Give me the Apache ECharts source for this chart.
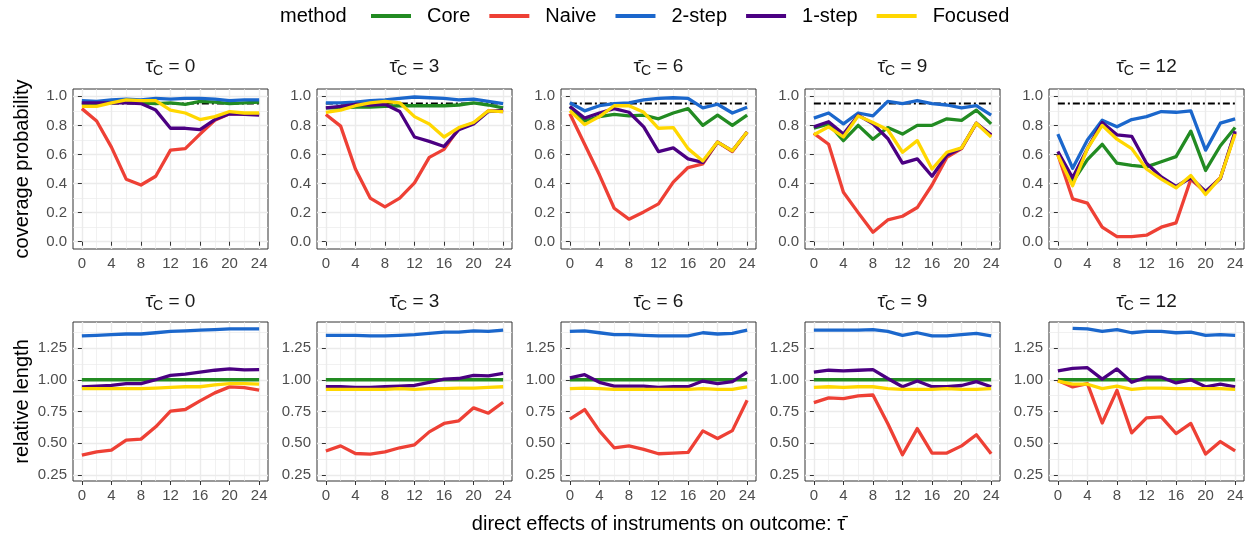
<!DOCTYPE html>
<html><head><meta charset="utf-8">
<script src="https://cdn.jsdelivr.net/npm/echarts@6/dist/echarts.min.js"></script>
<style>html,body{margin:0;padding:0;background:#fff}#c{width:1252px;height:541px}</style>
</head><body><div id="c"></div>
<script>
const methods = ['Core', 'Naive', '2-step', '1-step', 'Focused'];
const colors = ['#228B22', '#EE4035', '#1B67CC', '#4B0082', '#FFD700'];
const tauBar = [0, 2, 4, 6, 8, 10, 12, 14, 16, 18, 20, 22, 24];
const tauC = [0, 3, 6, 9, 12];
const xTicks = [0, 4, 8, 12, 16, 20, 24];
const xMinor = [2, 6, 10, 14, 18, 22];
const covTicks = [0, 0.2, 0.4, 0.6, 0.8, 1.0];
const covMinor = [0.1, 0.3, 0.5, 0.7, 0.9];
const lenTicks = [0.25, 0.5, 0.75, 1.0, 1.25];
const lenMinor = [0.375, 0.625, 0.875, 1.125, 1.375];
const nominal = 0.95;

// coverage probability, one row per tauC panel
const covCore = [
  [0.955,0.95,0.96,0.96,0.955,0.95,0.955,0.945,0.965,0.96,0.95,0.955,0.96],
  [0.92,0.92,0.925,0.925,0.93,0.935,0.935,0.935,0.935,0.94,0.955,0.94,0.92],
  [0.93,0.83,0.86,0.875,0.865,0.87,0.845,0.885,0.915,0.8,0.87,0.8,0.87],
  [0.78,0.81,0.695,0.8,0.705,0.785,0.74,0.8,0.8,0.845,0.835,0.905,0.81],
  [0.605,0.41,0.565,0.67,0.54,0.525,0.515,0.55,0.585,0.76,0.49,0.66,0.785]
];
const covNaive = [
  [0.915,0.83,0.65,0.43,0.39,0.45,0.63,0.64,0.74,0.835,0.88,0.88,0.875],
  [0.875,0.795,0.5,0.3,0.24,0.3,0.405,0.58,0.635,0.78,0.815,0.9,0.895],
  [0.88,0.67,0.46,0.23,0.155,0.205,0.26,0.41,0.51,0.535,0.685,0.62,0.755],
  [0.745,0.67,0.34,0.2,0.065,0.15,0.175,0.235,0.39,0.58,0.64,0.815,0.73],
  [0.6,0.295,0.265,0.1,0.035,0.035,0.045,0.1,0.13,0.43,0.34,0.44,0.75]
];
const cov2step = [
  [0.97,0.965,0.975,0.98,0.975,0.985,0.98,0.985,0.985,0.98,0.97,0.975,0.975],
  [0.955,0.955,0.96,0.97,0.975,0.985,0.995,0.99,0.985,0.975,0.98,0.965,0.95],
  [0.955,0.9,0.935,0.95,0.955,0.975,0.985,0.99,0.985,0.92,0.945,0.885,0.925],
  [0.85,0.885,0.81,0.885,0.865,0.965,0.95,0.97,0.95,0.94,0.92,0.935,0.87],
  [0.74,0.505,0.7,0.835,0.79,0.84,0.86,0.895,0.89,0.9,0.63,0.815,0.845]
];
const cov1step = [
  [0.955,0.955,0.955,0.955,0.95,0.905,0.78,0.78,0.77,0.84,0.88,0.875,0.87],
  [0.92,0.93,0.945,0.94,0.945,0.895,0.72,0.69,0.655,0.77,0.81,0.895,0.905],
  [0.93,0.85,0.885,0.915,0.89,0.79,0.62,0.645,0.57,0.545,0.685,0.625,0.755],
  [0.79,0.825,0.74,0.87,0.81,0.71,0.54,0.57,0.45,0.595,0.645,0.815,0.735],
  [0.62,0.44,0.64,0.82,0.735,0.725,0.54,0.445,0.38,0.44,0.345,0.435,0.76]
];
const covFocused = [
  [0.93,0.93,0.955,0.975,0.97,0.97,0.905,0.885,0.84,0.86,0.895,0.885,0.885],
  [0.89,0.905,0.935,0.955,0.965,0.955,0.86,0.81,0.72,0.785,0.82,0.9,0.895],
  [0.9,0.805,0.86,0.935,0.935,0.89,0.78,0.785,0.64,0.555,0.685,0.625,0.755],
  [0.735,0.79,0.72,0.865,0.82,0.77,0.615,0.695,0.5,0.615,0.645,0.815,0.72],
  [0.595,0.385,0.64,0.8,0.705,0.64,0.5,0.43,0.37,0.455,0.325,0.44,0.74]
];

// relative length, one row per tauC panel
const lenCore = [
  [1,1,1,1,1,1,1,1,1,1,1,1,1],
  [1,1,1,1,1,1,1,1,1,1,1,1,1],
  [1,1,1,1,1,1,1,1,1,1,1,1,1],
  [1,1,1,1,1,1,1,1,1,1,1,1,1],
  [1,1,1,1,1,1,1,1,1,1,1,1,1]
];
const lenNaive = [
  [0.407,0.433,0.446,0.525,0.533,0.63,0.753,0.766,0.834,0.897,0.944,0.938,0.918],
  [0.44,0.48,0.42,0.415,0.433,0.465,0.488,0.59,0.656,0.677,0.779,0.737,0.823],
  [0.69,0.766,0.598,0.465,0.48,0.452,0.418,0.423,0.428,0.598,0.538,0.6,0.839],
  [0.82,0.857,0.852,0.873,0.88,0.656,0.41,0.616,0.423,0.423,0.48,0.567,0.418],
  [0.995,0.944,0.97,0.66,0.917,0.582,0.70,0.708,0.577,0.656,0.415,0.514,0.44]
];
const len2step = [
  [1.345,1.35,1.355,1.36,1.36,1.37,1.38,1.385,1.39,1.395,1.4,1.4,1.4],
  [1.35,1.35,1.35,1.345,1.345,1.35,1.355,1.365,1.375,1.375,1.385,1.38,1.39],
  [1.38,1.385,1.37,1.355,1.355,1.35,1.345,1.345,1.345,1.37,1.36,1.365,1.39],
  [1.39,1.39,1.39,1.39,1.395,1.38,1.35,1.37,1.345,1.345,1.355,1.365,1.345],
  [null,1.405,1.4,1.38,1.395,1.37,1.38,1.38,1.37,1.375,1.35,1.355,1.35]
];
const len1step = [
  [0.944,0.95,0.955,0.97,0.97,1.0,1.035,1.045,1.06,1.075,1.085,1.078,1.08],
  [0.945,0.945,0.94,0.94,0.945,0.95,0.955,0.98,1.005,1.01,1.035,1.03,1.05],
  [1.015,1.04,0.98,0.95,0.95,0.95,0.94,0.945,0.945,0.99,0.97,0.985,1.06],
  [1.06,1.075,1.07,1.075,1.08,1.01,0.945,0.99,0.945,0.945,0.955,0.985,0.945],
  [1.07,1.09,1.095,1.005,1.085,0.98,1.02,1.02,0.975,1.0,0.945,0.965,0.945]
];
const lenFocused = [
  [0.93,0.93,0.93,0.93,0.93,0.935,0.94,0.945,0.945,0.96,0.97,0.97,0.965],
  [0.925,0.925,0.925,0.925,0.925,0.93,0.925,0.93,0.93,0.935,0.935,0.94,0.945],
  [0.93,0.935,0.93,0.925,0.925,0.925,0.925,0.925,0.925,0.93,0.925,0.925,0.945],
  [0.94,0.945,0.94,0.945,0.945,0.93,0.925,0.925,0.925,0.93,0.925,0.925,0.93],
  [0.99,0.965,0.965,0.93,0.95,0.925,0.935,0.935,0.93,0.93,0.93,0.93,0.925]
];

const covSets = [covCore, covNaive, cov2step, cov1step, covFocused];
const lenSets = [lenCore, lenNaive, len2step, len1step, lenFocused];

// ---- layout / style ----
const FONT = '"Liberation Sans", Arial, Helvetica, sans-serif';
const panelLeft = [73, 317, 561, 805, 1049];
const panelW = 195;
const rowTop = [89, 322];
const rowH = [160, 159];
const rowRange = [[-0.05, 1.05], [0.2035, 1.4545]];
const rowTicks = [covTicks, lenTicks];
const rowMinor = [covMinor, lenMinor];
const rowFmt = [v => v.toFixed(1), v => v.toFixed(2)];
const rowTitle = ['coverage probability', 'relative length'];
const stripGap = [11, 9];
const majorLine = {color: '#ebebeb', width: 1.4};
const minorLine = {color: '#ebebeb', width: 0.7};

const grids = [], xAxes = [], yAxes = [], series = [];
for (let r = 0; r < 2; r++) {
  for (let c = 0; c < 5; c++) {
    const gi = r * 5 + c;
    grids.push({left: panelLeft[c], top: rowTop[r], width: panelW, height: rowH[r],
      show: true, borderColor: '#333333', borderWidth: 1, backgroundColor: '#fff'});
    // main x axis
    xAxes.push({gridIndex: gi, type: 'value', min: -1.2, max: 25.2,
      axisLine: {show: false},
      axisTick: {show: true, customValues: xTicks, length: 4, lineStyle: {color: '#333', width: 1}},
      axisLabel: {customValues: xTicks, color: '#4d4d4d', fontSize: 15, margin: 7, fontFamily: FONT},
      splitLine: {show: true, lineStyle: majorLine},
      name: gi === 7 ? 'direct effects of instruments on outcome: τ\u0304' : '',
      nameLocation: 'middle', nameGap: 33,
      nameTextStyle: {fontSize: 20, color: '#000', fontFamily: FONT}
    });
    // minor x grid + strip title
    xAxes.push({gridIndex: gi, type: 'value', min: -1.2, max: 25.2, position: 'top',
      axisLine: {show: false},
      axisTick: {show: false, customValues: xMinor},
      axisLabel: {show: false, customValues: xMinor},
      splitLine: {show: true, lineStyle: minorLine},
      name: '{t|τ\u0304}{s|C}{t| = ' + tauC[c] + '}',
      nameLocation: 'middle', nameGap: stripGap[r],
      nameTextStyle: {fontFamily: FONT, rich: {
        t: {fontSize: 19, color: '#1a1a1a', lineHeight: 22, fontFamily: FONT},
        s: {fontSize: 14, color: '#1a1a1a', lineHeight: 10, verticalAlign: 'bottom', fontFamily: FONT}
      }}
    });
    // main y axis
    yAxes.push({gridIndex: gi, type: 'value', min: rowRange[r][0], max: rowRange[r][1],
      axisLine: {show: false},
      axisTick: {show: true, customValues: rowTicks[r], length: 4, lineStyle: {color: '#333', width: 1}},
      axisLabel: {customValues: rowTicks[r], formatter: rowFmt[r], color: '#4d4d4d', fontSize: 15, margin: 6, fontFamily: FONT},
      splitLine: {show: true, lineStyle: majorLine},
      name: c === 0 ? rowTitle[r] : '',
      nameLocation: 'middle', nameGap: 41,
      nameTextStyle: {fontSize: 20, color: '#000', fontFamily: FONT}
    });
    // minor y grid
    yAxes.push({gridIndex: gi, type: 'value', min: rowRange[r][0], max: rowRange[r][1], position: 'right',
      axisLine: {show: false},
      axisTick: {show: false, customValues: rowMinor[r]},
      axisLabel: {show: false, customValues: rowMinor[r]},
      splitLine: {show: true, lineStyle: minorLine}
    });

    const xa = gi * 2, ya = gi * 2;
    if (r === 0) {
      series.push({type: 'line', name: 'nominal', xAxisIndex: xa, yAxisIndex: ya,
        data: [[tauBar[0], nominal], [tauBar[tauBar.length - 1], nominal]],
        symbol: 'none', silent: true, legendHoverLink: false,
        lineStyle: {color: '#000', width: 2, type: [7, 3, 2, 3]}});
    }
    const sets = r === 0 ? covSets : lenSets;
    methods.forEach((m, mi) => {
      const vals = sets[mi][c];
      const data = [];
      tauBar.forEach((t, i) => { if (vals[i] !== null) data.push([t, vals[i]]); });
      series.push({type: 'line', name: m, xAxisIndex: xa, yAxisIndex: ya, data: data,
        symbol: 'none', color: colors[mi],
        lineStyle: {color: colors[mi], width: 3.3, cap: 'butt', join: 'round'}});
    });
  }
}

const chart = echarts.init(document.getElementById('c'), null, {renderer: 'canvas'});
chart.setOption({
  animation: false,
  backgroundColor: '#fff',
  textStyle: {fontFamily: FONT},
  title: {text: 'method', left: 280, top: 5, padding: 0,
    textStyle: {fontSize: 20, lineHeight: 22, fontWeight: 'normal', color: '#000', fontFamily: FONT}},
  legend: {data: methods, left: 371, top: 5, padding: 0, icon: 'rect', itemWidth: 40, itemHeight: 4, itemGap: 19,
    selectedMode: false,
    textStyle: {fontSize: 20, lineHeight: 22, color: '#000', fontFamily: FONT, padding: [0, 0, 0, 11]}},
  grid: grids,
  xAxis: xAxes,
  yAxis: yAxes,
  series: series
});
</script>
</body></html>
